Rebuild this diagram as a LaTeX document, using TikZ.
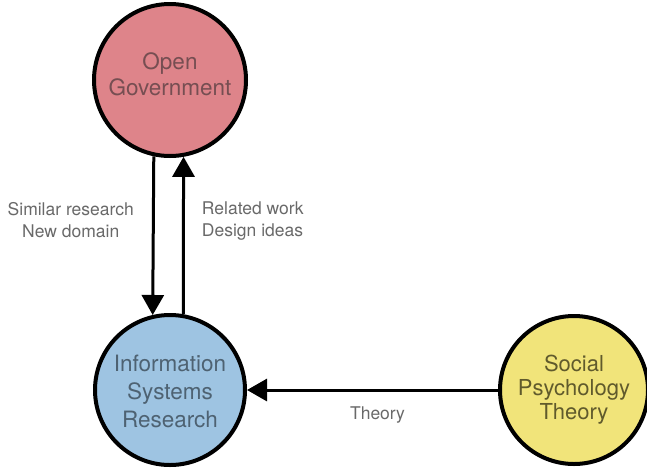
\documentclass[tikz,border=0pt]{standalone}
\usepackage{fontspec}
\setmainfont{TeX Gyre Heros}
\usetikzlibrary{arrows.meta}
\definecolor{ogfill}{RGB}{222,132,138}
\definecolor{isrfill}{RGB}{158,196,226}
\definecolor{sptfill}{RGB}{241,228,122}
\definecolor{ogtext}{RGB}{118,78,82}
\definecolor{isrtext}{RGB}{78,98,114}
\definecolor{spttext}{RGB}{96,90,44}
\definecolor{lbltext}{RGB}{105,105,105}
\begin{document}
\begin{tikzpicture}[x=1pt,y=-1pt,
  topic/.style={circle, draw=black, line width=4pt, inner sep=0pt, align=center},
  flow/.style={line width=3pt, -{Triangle[width=22pt,length=20pt]}},
  lbl/.style={inner sep=0pt, text=lbltext, font=\fontsize{17.5}{22}\selectfont}
]
\useasboundingbox (0,0) rectangle (647,469);
\node[topic, fill=ogfill, minimum size=152pt, text=ogtext, text depth=11pt,
      font=\fontsize{22.5}{26}\selectfont] (og) at (170,80) {Open\\Government};
\node[circle, draw=black, line width=4pt, inner sep=0pt, fill=isrfill, minimum size=150pt, text=isrtext,
      font=\fontsize{22.5}{28}\selectfont] (isr) at (170,390)
      {\raisebox{-9pt}[42pt][42pt]{\begin{tabular}{@{}c@{}}Information\\Systems\\Research\end{tabular}}};
\node[topic, fill=sptfill, minimum size=148pt, text=spttext,
      font=\fontsize{22}{24}\selectfont] (spt) at (574,390) {Social\\Psychology\\Theory};
\draw[flow] (og.-102.9) -- node[lbl, pos=0.4, left=18pt, align=center] (l1) {Similar research\\New domain} (isr.103.1);
\draw[flow] (isr.80) -- node[lbl, pos=0.59, right=17pt, align=left] (l2) {Related work\\Design ideas} (og.-80.2);
\draw[flow] (spt.west) -- node[lbl, pos=0.48, below=15pt] (l3) {Theory} (isr.east);
\end{tikzpicture}
\end{document}
